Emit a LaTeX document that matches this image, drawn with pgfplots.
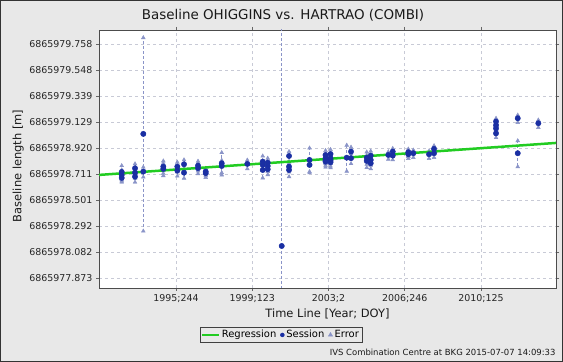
\documentclass[border=0pt]{standalone}
\usepackage{pgfplots}
\pgfplotsset{compat=1.18}
\usepackage{pgfplotstable}
\usepackage{fontspec}
\setmainfont{DejaVu Sans}
\definecolor{bgc}{HTML}{E8E8E8}
\definecolor{sess}{HTML}{1A2FA3}
\definecolor{errc}{HTML}{8A94C8}
\definecolor{regc}{HTML}{22CC22}
\definecolor{gridc}{HTML}{C8CAD6}

\pgfplotstableread{
x y e
1993.053 0.728 0.055
1993.053 0.704 0.045
1993.053 0.680 0.030
1993.693 0.758 0.04
1993.693 0.722 0.04
1993.693 0.690 0.04
1994.092 0.731 0.04
1994.092 1.035 0.78
1995.055 0.771 0.05
1995.055 0.752 0.05
1995.729 0.771 0.04
1995.729 0.739 0.04
1996.051 0.790 0.04
1996.051 0.722 0.04
1996.725 0.779 0.04
1996.725 0.758 0.04
1997.095 0.731 0.03
1997.095 0.718 0.03
1997.865 0.798 0.09
1997.865 0.776 0.05
1999.097 0.793 0.035
1999.838 0.811 0.05
1999.838 0.785 0.04
1999.838 0.744 0.06
2000.079 0.803 0.04
2000.079 0.776 0.04
2000.079 0.750 0.04
2000.752 0.131 2.5
2001.104 0.857 0.04
2001.104 0.771 0.04
2001.104 0.744 0.05
2002.090 0.825 0.10
2002.090 0.785 0.05
2002.860 0.865 0.04
2002.860 0.839 0.04
2002.860 0.825 0.04
2002.860 0.811 0.04
2003.101 0.873 0.04
2003.101 0.839 0.04
2003.101 0.819 0.04
2003.101 0.806 0.04
2003.880 0.843 0.105
2004.087 0.892 0.04
2004.087 0.839 0.04
2004.843 0.843 0.05
2004.843 0.817 0.05
2005.035 0.860 0.04
2005.035 0.825 0.04
2005.035 0.798 0.04
2005.882 0.865 0.03
2006.094 0.892 0.03
2006.094 0.860 0.03
2006.844 0.887 0.03
2006.844 0.871 0.03
2007.085 0.879 0.03
2007.840 0.871 0.03
2008.081 0.914 0.03
2008.081 0.879 0.03
2011.064 1.135 0.03
2011.064 1.105 0.03
2011.064 1.079 0.03
2011.064 1.039 0.03
2012.109 1.161 0.03
2012.109 0.879 0.105
2013.100 1.121 0.03
}\sessions

\pgfplotstableread{
x y
1991.96 0.704
2013.95 0.962
}\regression

\begin{document}
\begin{tikzpicture}
\fill[bgc] (0bp,0bp) rectangle (563bp,362bp);
\draw[black!80, line width=1bp] (0.5bp,0.5bp) rectangle (562.5bp,361.5bp);
\node[font=\fontsize{13.5}{16}\selectfont, text=black!90] at (283bp,347bp) {Baseline OHIGGINS vs. HARTRAO (COMBI)};
\node[anchor=east, font=\fontsize{8.5}{10}\selectfont, text=black!90] at (559bp,10bp) {IVS Combination Centre at BKG 2015-07-07 14:09:33};
\begin{axis}[
  at={(99bp,74bp)}, anchor=south west,
  scale only axis, width=457bp, height=258bp,
  xmin=1991.96, xmax=2013.95, ymin=-0.208, ymax=1.873,
  clip mode=global,
  axis background/.style={fill=white},
  axis line style={draw=black!70, line width=0.8bp},
  grid=major,
  major grid style={gridc, dash pattern=on 3bp off 3bp, line width=0.6bp},
  tick align=outside, major tick length=3bp,
  tick style={black!60, line width=0.6bp},
  scaled ticks=false,
  xtick={1995.666,1999.334,2003.003,2006.671,2010.340},
  xticklabels={1995;244,1999;123,2003;2,2006;246,2010;125},
  ytick={1.758,1.548,1.339,1.129,0.920,0.711,0.501,0.292,0.082,-0.127},
  yticklabels={6865979.758,6865979.548,6865979.339,6865979.129,6865978.920,6865978.711,6865978.501,6865978.292,6865978.082,6865977.873},
  tick label style={font=\fontsize{9.5}{11}\selectfont, text=black!85},
  xlabel={Time Line [Year; DOY]},
  ylabel={Baseline length [m]},
  label style={font=\fontsize{11.5}{13}\selectfont, text=black!90},
  xlabel style={at={(axis description cs:0.5,-0.1)}, anchor=center},
  ylabel style={at={(axis description cs:-0.177,0.473)}, anchor=center},
  legend style={at={(axis description cs:0.398,-0.182)}, anchor=center,
    legend columns=3, draw=black!75, fill=bgc,
    font=\fontsize{10}{12}\selectfont, inner sep=1bp,
    /tikz/every even column/.append style={column sep=2bp}},
]
\addplot[forget plot, errc, only marks, mark=none,
  error bars/.cd, y dir=plus, y explicit,
  error bar style={draw=errc, color=errc, dash pattern=on 3bp off 2bp, line width=0.7bp},
  error mark=triangle*,
  error mark options={draw=errc, fill=errc, solid, mark size=2.2bp, rotate=-90}]
  table[x=x, y=y, y error=e] {\sessions};
\addplot[forget plot, errc, only marks, mark=none,
  error bars/.cd, y dir=minus, y explicit,
  error bar style={draw=errc, color=errc, dash pattern=on 3bp off 2bp, line width=0.7bp},
  error mark=triangle*,
  error mark options={draw=errc, fill=errc, solid, mark size=2.2bp, rotate=90}]
  table[x=x, y=y, y error=e] {\sessions};
\addplot[forget plot, only marks, mark=*, mark size=2.7bp, sess, mark options={fill=sess, draw=sess}]
  table[x=x, y=y] {\sessions};
\addplot[forget plot, regc, line width=2.5bp] table[x=x, y=y] {\regression};
\addlegendimage{regc, line width=2bp}
\addlegendentry{Regression}
\addlegendimage{only marks, mark=*, sess, mark size=2bp}
\addlegendentry{Session}
\addlegendimage{only marks, mark=triangle*, errc, mark size=2.5bp}
\addlegendentry{Error}
\end{axis}
\end{tikzpicture}
\end{document}
